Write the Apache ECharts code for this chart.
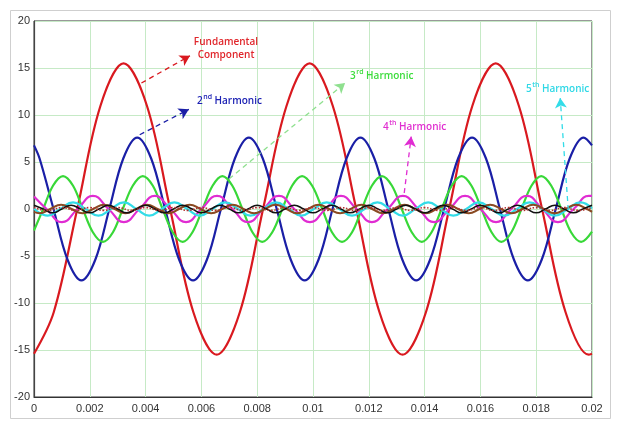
<!DOCTYPE html>
<html>
<head>
<meta charset="utf-8">
<script src="https://cdn.jsdelivr.net/npm/echarts@6/dist/echarts.min.js"></script>
<style>html,body{margin:0;padding:0;background:#fff;}#c{width:627px;height:432px;}</style>
</head>
<body>
<div id="c"></div>
<script>
// x-axis ticks
var xTicks = [0, 0.002, 0.004, 0.006, 0.008, 0.01, 0.012, 0.014, 0.016, 0.018, 0.02];
var yTicks = [-20, -15, -10, -5, 0, 5, 10, 15, 20];

// Fundamental component (red)
var fundT = [0, 0.00071, 0.00155, 0.00238, 0.00321, 0.00405, 0.00488, 0.00571, 0.00655, 0.00738, 0.00821, 0.00905, 0.00988, 0.01071, 0.01155, 0.01238, 0.01321, 0.01405, 0.01488, 0.01571, 0.01655, 0.01738, 0.01821, 0.01905, 0.01988, 0.02];
var fundV = [-15.4, -10.96, 0, 10.96, 15.5, 10.96, 0, -10.96, -15.5, -10.96, 0, 10.96, 15.5, 10.96, 0, -10.96, -15.5, -10.96, 0, 10.96, 15.5, 10.96, 0, -10.96, -15.5, -15.4];

// 2nd harmonic (blue)
var h2T = [0, 0.0002, 0.0007, 0.0012, 0.0017, 0.0022, 0.0027, 0.0032, 0.0037, 0.0042, 0.0047, 0.0052, 0.0057, 0.0062, 0.0067, 0.0072, 0.0077, 0.0082, 0.0087, 0.0092, 0.0097, 0.0102, 0.0107, 0.0112, 0.0117, 0.0122, 0.0127, 0.0132, 0.0137, 0.0142, 0.0147, 0.0152, 0.0157, 0.0162, 0.0167, 0.0172, 0.0177, 0.0182, 0.0187, 0.0192, 0.0197, 0.02];
var h2V = [6.77,
  5.37, 0, -5.37, -7.6, -5.37, 0, 5.37, 7.6,
  5.37, 0, -5.37, -7.6, -5.37, 0, 5.37, 7.6,
  5.37, 0, -5.37, -7.6, -5.37, 0, 5.37, 7.6,
  5.37, 0, -5.37, -7.6, -5.37, 0, 5.37, 7.6,
  5.37, 0, -5.37, -7.6, -5.37, 0, 5.37, 7.6,
  6.77];

// 3rd harmonic (green)
var h3T = [0, 0.00033, 0.00068, 0.00104, 0.0014, 0.00175, 0.00211, 0.00247, 0.00283, 0.00318, 0.00354, 0.0039, 0.00426, 0.00461, 0.00497, 0.00533, 0.00568, 0.00604, 0.0064, 0.00675, 0.00711, 0.00747, 0.00783, 0.00818, 0.00854, 0.0089, 0.00925, 0.00961, 0.00997, 0.01033, 0.01068, 0.01104, 0.0114, 0.01175, 0.01211, 0.01247, 0.01283, 0.01318, 0.01354, 0.0139, 0.01425, 0.01461, 0.01497, 0.01533, 0.01568, 0.01604, 0.0164, 0.01675, 0.01711, 0.01747, 0.01783, 0.01818, 0.01854, 0.0189, 0.01925, 0.01961, 0.02];
var h3V = [-2.29,
  0, 2.47, 3.5, 2.47, 0, -2.47, -3.5, -2.47,
  0, 2.47, 3.5, 2.47, 0, -2.47, -3.5, -2.47,
  0, 2.47, 3.5, 2.47, 0, -2.47, -3.5, -2.47,
  0, 2.47, 3.5, 2.47, 0, -2.47, -3.5, -2.47,
  0, 2.47, 3.5, 2.47, 0, -2.47, -3.5, -2.47,
  0, 2.47, 3.5, 2.47, 0, -2.47, -3.5, -2.47,
  0, 2.47, 3.5, 2.47, 0, -2.47, -3.5,
  -2.4];

// 4th harmonic (magenta)
var h4T = [0, 0.00045, 0.001, 0.00156, 0.00211, 0.00267, 0.00322, 0.00378, 0.00433, 0.00489, 0.00545, 0.006, 0.00656, 0.00711, 0.00767, 0.00822, 0.00878, 0.00933, 0.00989, 0.01045, 0.011, 0.01156, 0.01211, 0.01267, 0.01322, 0.01378, 0.01434, 0.01489, 0.01545, 0.016, 0.01656, 0.01711, 0.01767, 0.01822, 0.01878, 0.01934, 0.01989, 0.02];
var h4V = [1.33,
  0, -1.4, 0, 1.4, 0, -1.4, 0, 1.4, 0, -1.4, 0, 1.4,
  0, -1.4, 0, 1.4, 0, -1.4, 0, 1.4, 0, -1.4, 0, 1.4,
  0, -1.4, 0, 1.4, 0, -1.4, 0, 1.4, 0, -1.4, 0, 1.4,
  1.39];

// 5th harmonic (cyan)
var h5T = [0, 0.00049, 0.00094, 0.0014, 0.00185, 0.00231, 0.00276, 0.00322, 0.00367, 0.00413, 0.00458, 0.00503, 0.00549, 0.00594, 0.0064, 0.00685, 0.00731, 0.00776, 0.00822, 0.00867, 0.00913, 0.00958, 0.01003, 0.01049, 0.01094, 0.0114, 0.01185, 0.01231, 0.01276, 0.01322, 0.01367, 0.01413, 0.01458, 0.01503, 0.01549, 0.01594, 0.0164, 0.01685, 0.01731, 0.01776, 0.01822, 0.01867, 0.01913, 0.01958, 0.02];
var h5V = [0.05,
  -0.7, 0, 0.7, 0, -0.7, 0, 0.7, 0, -0.7, 0, 0.7, 0, -0.7, 0, 0.7, 0,
  -0.7, 0, 0.7, 0, -0.7, 0, 0.7, 0, -0.7, 0, 0.7, 0, -0.7, 0, 0.7, 0,
  -0.7, 0, 0.7, 0, -0.7, 0, 0.7, 0,
  -0.7, 0, 0.7,
  0.05];

// higher harmonic (brown)
var h6T = [0, 0.0002, 0.00058, 0.00097, 0.00135, 0.00174, 0.00212, 0.00251, 0.00289, 0.00328, 0.00366, 0.00405, 0.00443, 0.00482, 0.0052, 0.00558, 0.00597, 0.00635, 0.00674, 0.00712, 0.00751, 0.00789, 0.00828, 0.00866, 0.00905, 0.00943, 0.00982, 0.0102, 0.01058, 0.01097, 0.01135, 0.01174, 0.01212, 0.01251, 0.01289, 0.01328, 0.01366, 0.01405, 0.01443, 0.01482, 0.0152, 0.01558, 0.01597, 0.01635, 0.01674, 0.01712, 0.01751, 0.01789, 0.01828, 0.01866, 0.01905, 0.01943, 0.01982, 0.02];
var h6V = [-0.31,
  -0.45, 0, 0.45, 0, -0.45, 0, 0.45, 0, -0.45, 0, 0.45, 0, -0.45, 0, 0.45, 0,
  -0.45, 0, 0.45, 0, -0.45, 0, 0.45, 0, -0.45, 0, 0.45, 0, -0.45, 0, 0.45, 0,
  -0.45, 0, 0.45, 0, -0.45, 0, 0.45, 0, -0.45, 0, 0.45, 0, -0.45, 0, 0.45, 0,
  -0.45, 0, 0.45, 0,
  -0.31];

// higher harmonic (black)
var h7T = [0, 0.00033, 0.00067, 0.001, 0.00133, 0.00167, 0.002, 0.00233, 0.00267, 0.003, 0.00333, 0.00367, 0.004, 0.00433, 0.00467, 0.005, 0.00533, 0.00567, 0.006, 0.00633, 0.00667, 0.007, 0.00733, 0.00767, 0.008, 0.00833, 0.00867, 0.009, 0.00933, 0.00967, 0.01, 0.01033, 0.01067, 0.011, 0.01133, 0.01167, 0.012, 0.01233, 0.01267, 0.013, 0.01333, 0.01367, 0.014, 0.01433, 0.01467, 0.015, 0.01533, 0.01567, 0.016, 0.01633, 0.01667, 0.017, 0.01733, 0.01767, 0.018, 0.01833, 0.01867, 0.019, 0.01933, 0.01967, 0.02];
var h7V = [0.4, 0, -0.4, 0, 0.4, 0, -0.4, 0, 0.4, 0, -0.4, 0, 0.4, 0, -0.4, 0,
  0.4, 0, -0.4, 0, 0.4, 0, -0.4, 0, 0.4, 0, -0.4, 0, 0.4, 0, -0.4, 0,
  0.4, 0, -0.4, 0, 0.4, 0, -0.4, 0, 0.4, 0, -0.4, 0, 0.4, 0, -0.4, 0,
  0.4, 0, -0.4, 0, 0.4, 0, -0.4, 0, 0.4, 0, -0.4, 0,
  0.4];

// residual (dotted dark red)
var h8T = [0, 0.0005, 0.001, 0.0015, 0.002, 0.0025, 0.003, 0.0035, 0.004, 0.0045, 0.005, 0.0055, 0.006, 0.0065, 0.007, 0.0075, 0.008, 0.0085, 0.009, 0.0095, 0.01, 0.0105, 0.011, 0.0115, 0.012, 0.0125, 0.013, 0.0135, 0.014, 0.0145, 0.015, 0.0155, 0.016, 0.0165, 0.017, 0.0175, 0.018, 0.0185, 0.019, 0.0195, 0.02];
var h8V = [0.15, -0.15, 0.15, -0.15, 0.15, -0.15, 0.15, -0.15, 0.15, -0.15, 0.15, -0.15, 0.15, -0.15, 0.15, -0.15, 0.15, -0.15, 0.15, -0.15, 0.15, -0.15, 0.15, -0.15, 0.15, -0.15, 0.15, -0.15, 0.15, -0.15, 0.15, -0.15, 0.15, -0.15, 0.15, -0.15, 0.15, -0.15, 0.15, -0.15, 0.15];

// annotation arrows (data coordinates): [from, to]
var arrowFund = [[0.00385, 13.4], [0.00559, 16.3]];
var arrowH2 = [[0.00379, 7.9], [0.00555, 10.6]];
var arrowH3 = [[0.00699, 3.2], [0.01115, 13.4]];
var arrowH4 = [[0.01327, 1.7], [0.01352, 7.7]];
var arrowH5 = [[0.01915, -0.1], [0.01886, 11.8]];

function pairs(t, v) { return t.map(function (x, i) { return [x, v[i]]; }); }

function arrow(a, color) {
  return {
    silent: true,
    animation: false,
    symbol: ['none', 'arrow'],
    symbolSize: [9, 10],
    label: { show: false },
    lineStyle: { type: [5, 4], color: color, width: 1.3 },
    data: [[{ coord: a[0] }, { coord: a[1] }]]
  };
}

function line(name, t, v, color, width, smooth, extra) {
  var s = {
    name: name, type: 'line', data: pairs(t, v), smooth: smooth,
    showSymbol: false, symbol: 'none', animation: false,
    lineStyle: { color: color, width: width },
    itemStyle: { color: color }
  };
  for (var k in extra) s[k] = extra[k];
  return s;
}

var FONT = '"Open Sans", "DejaVu Sans", sans-serif';
var ctx = document.createElement('canvas').getContext('2d');
function tw(txt, size) { ctx.font = '600 ' + size + 'px ' + FONT; return ctx.measureText(txt).width; }

function harmLabel(num, sup, x, y, color) {
  var w1 = tw(num, 10), w2 = tw(sup, 7);
  var st = function (txt, size) { return { text: txt, fill: color, font: '600 ' + size + 'px ' + FONT, verticalAlign: 'middle', align: 'left' }; };
  return [
    { type: 'text', x: x, y: y, style: st(num, 10), z: 100 },
    { type: 'text', x: x + w1 + 0.5, y: y - 4, style: st(sup, 7), z: 100 },
    { type: 'text', x: x + w1 + w2 + 3, y: y, style: st('Harmonic', 10), z: 100 }
  ];
}

var chart = echarts.init(document.getElementById('c'), null, { renderer: 'canvas' });

var graphics = [
  { type: 'rect', shape: { x: 10.5, y: 10.5, width: 600, height: 408 }, style: { fill: 'none', stroke: '#cfcfcf', lineWidth: 1 }, z: -10, silent: true },
  { type: 'text', x: 226, y: 48.5, style: { text: 'Fundamental\nComponent', fill: '#e0262b', font: '600 10px ' + FONT, align: 'center', verticalAlign: 'middle', lineHeight: 13.5 }, z: 100 }
].concat(
  harmLabel('2', 'nd', 197, 101, '#1d22b4'),
  harmLabel('3', 'rd', 350, 76, '#3ddc3d'),
  harmLabel('4', 'th', 383, 127, '#e02fd0'),
  harmLabel('5', 'th', 526, 89, '#2fd8e6')
);

chart.setOption({
  animation: false,
  backgroundColor: '#fff',
  grid: { left: 34, right: 35, top: 21, bottom: 35, show: true, borderColor: '#333', borderWidth: 1, backgroundColor: 'transparent' },
  xAxis: {
    type: 'value', min: xTicks[0], max: xTicks[xTicks.length - 1], interval: 0.002,
    axisLine: { onZero: false, lineStyle: { color: '#333', width: 1.2 } },
    axisTick: { show: false },
    splitLine: { show: true, lineStyle: { color: '#c6eac6', width: 1 } },
    axisLabel: { color: '#333', fontSize: 11, fontFamily: 'Liberation Sans, Arial, sans-serif', margin: 6,
      formatter: function (v) { return String(+v.toFixed(3)); } }
  },
  yAxis: {
    type: 'value', min: yTicks[0], max: yTicks[yTicks.length - 1], interval: 5,
    axisLine: { show: true, onZero: false, lineStyle: { color: '#444', width: 1.2 } },
    axisTick: { show: false },
    splitLine: { show: true, lineStyle: { color: '#c6eac6', width: 1 } },
    axisLabel: { color: '#333', fontSize: 11, fontFamily: 'Liberation Sans, Arial, sans-serif', margin: 4 }
  },
  graphic: graphics,
  series: [
    line('Fundamental Component', fundT, fundV, '#d9191f', 2.2, 0.35, { markLine: arrow(arrowFund, '#d9191f') }),
    line('2nd Harmonic', h2T, h2V, '#1a1fa6', 2.2, 0.35, { markLine: arrow(arrowH2, '#1a1fa6') }),
    line('3rd Harmonic', h3T, h3V, '#38d838', 2.2, 0.35, { markLine: arrow(arrowH3, '#8fe08f') }),
    line('4th Harmonic', h4T, h4V, '#e02cd2', 2.2, 0.5, { markLine: arrow(arrowH4, '#e02cd2') }),
    line('5th Harmonic', h5T, h5V, '#33dce8', 2.2, 0.5, { markLine: arrow(arrowH5, '#33dce8') }),
    line('6th Harmonic', h6T, h6V, '#8a4a22', 2, 0.5, {}),
    line('7th Harmonic', h7T, h7V, '#111111', 1.6, 0.5, {}),
    line('Residual', h8T, h8V, '#b03030', 1.6, 0.5, { lineStyle: { color: '#b03030', width: 1.6, type: 'dotted' } })
  ]
});
</script>
</body>
</html>
